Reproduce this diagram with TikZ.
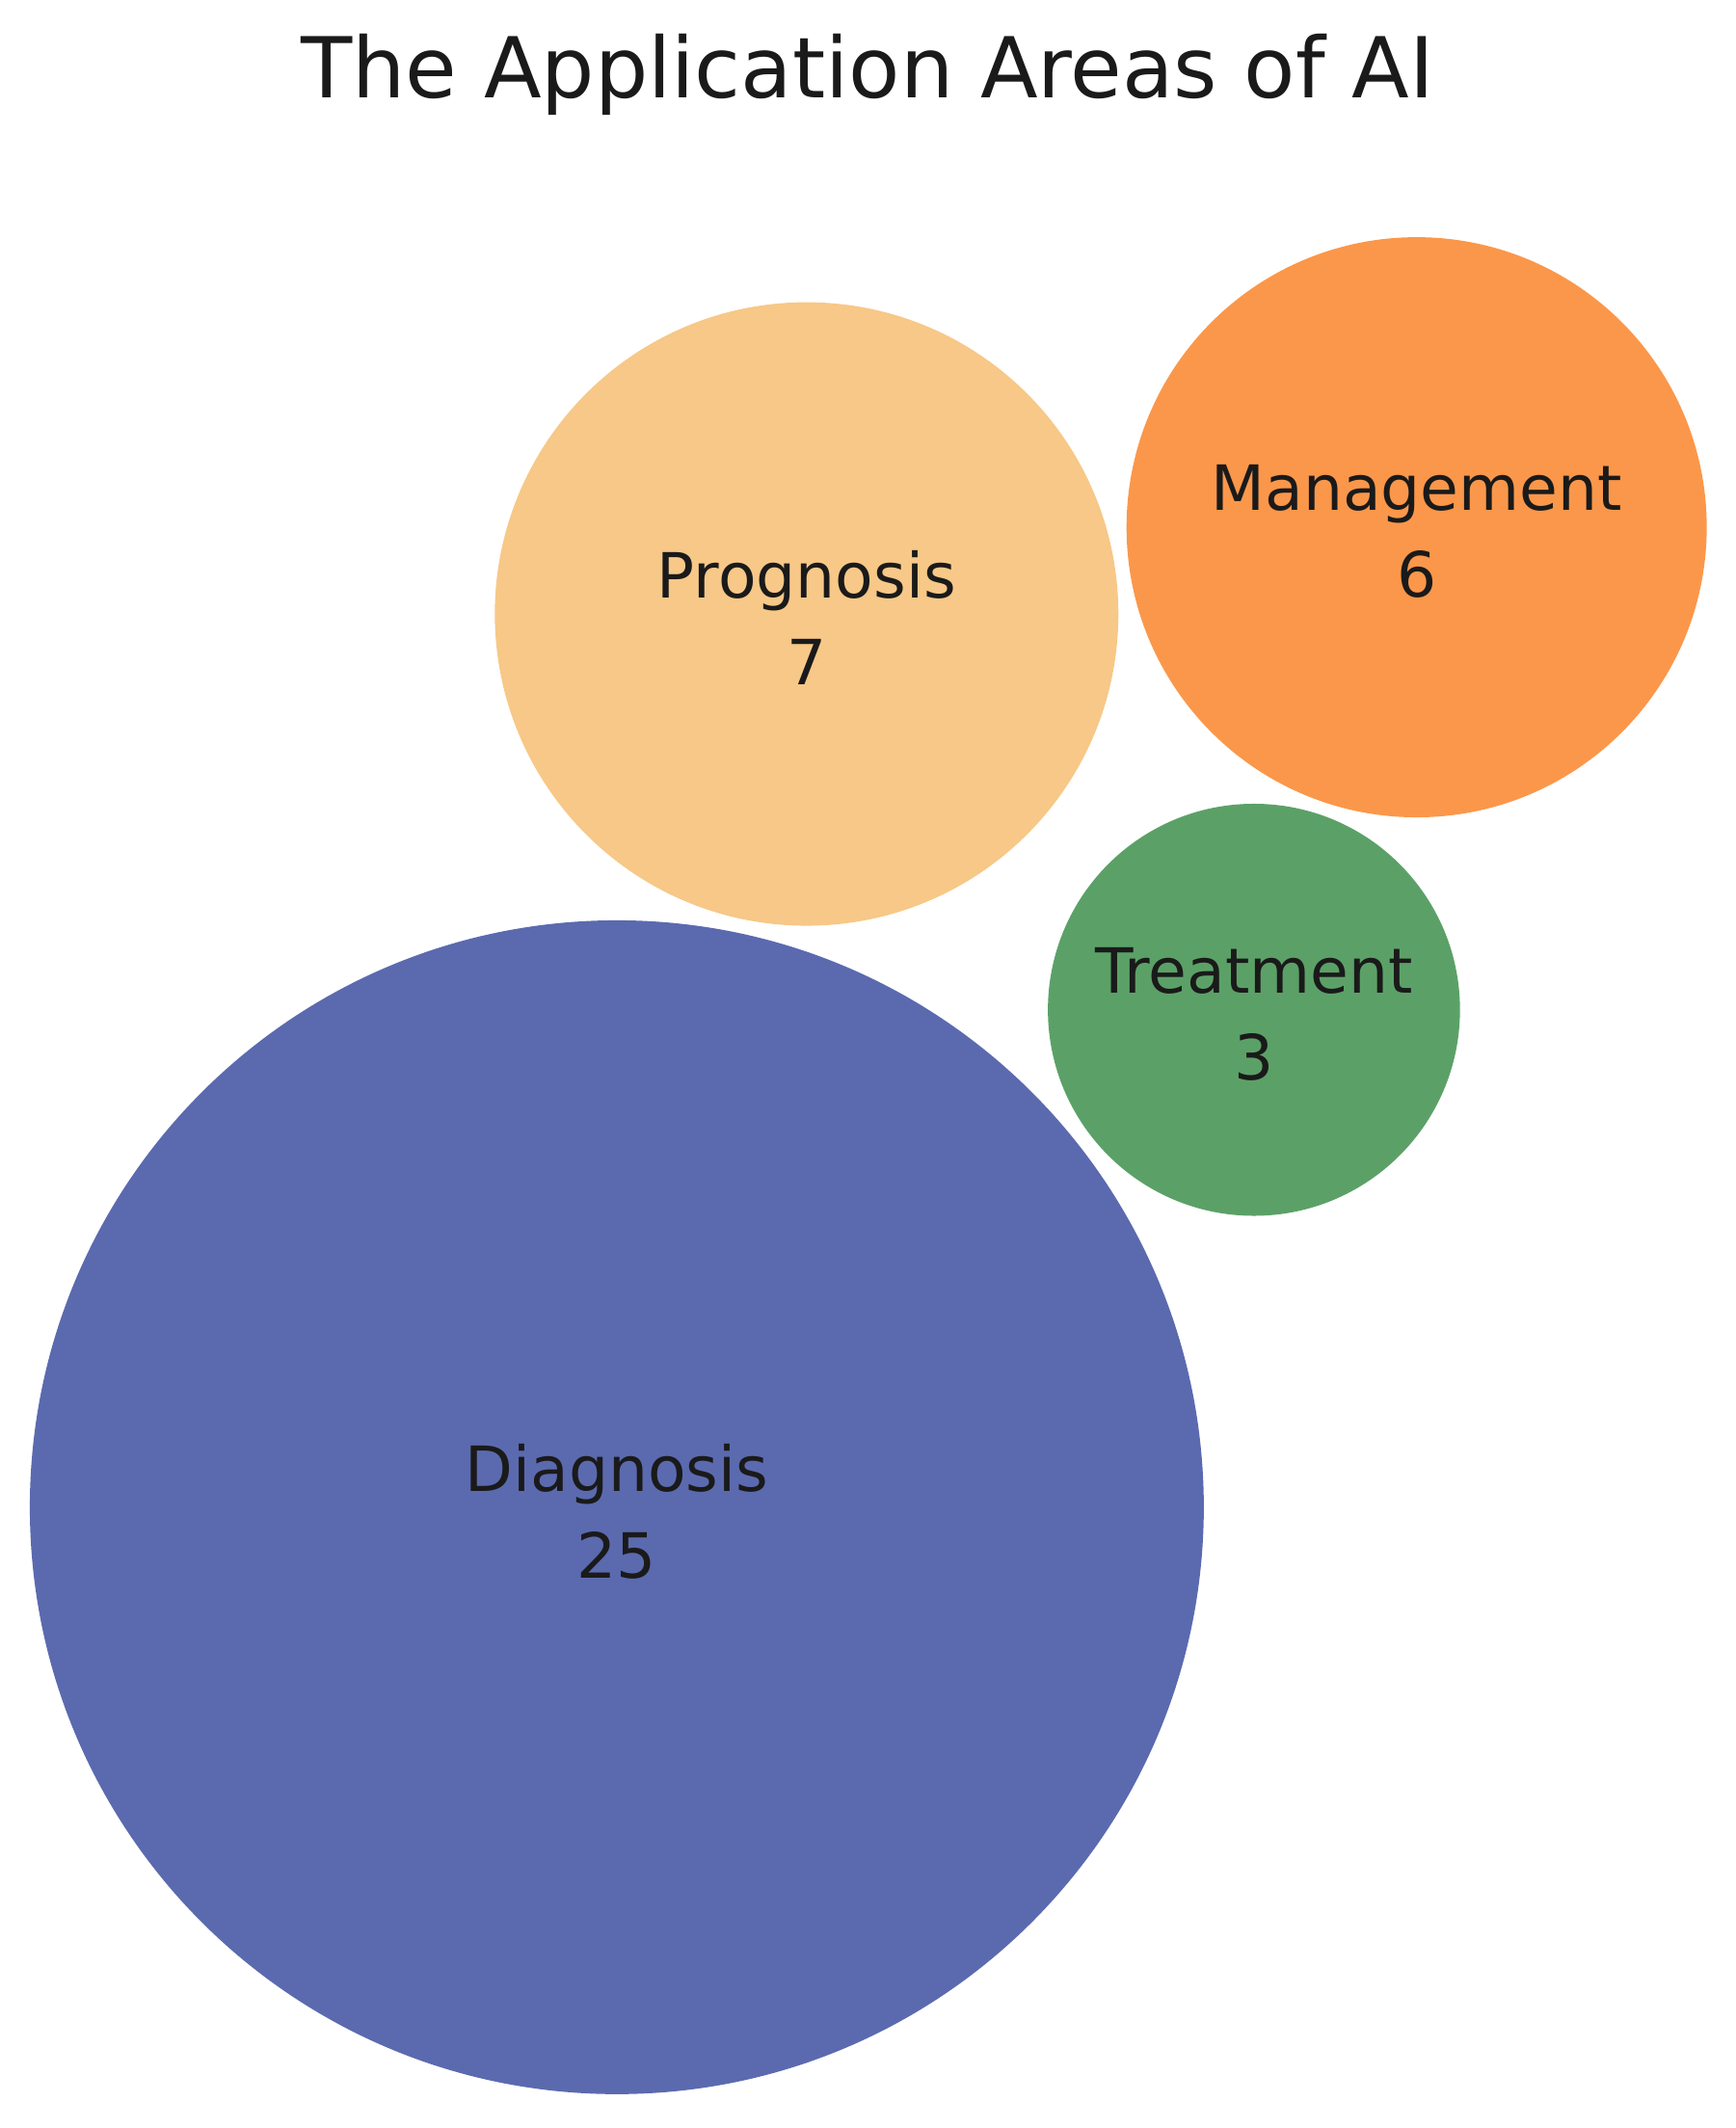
\documentclass[tikz,border=0pt]{standalone}
\usepackage{fontspec}
\setmainfont{DejaVu Sans}
\definecolor{cdiag}{HTML}{5B6AAF}
\definecolor{cprog}{HTML}{F7C887}
\definecolor{cman}{HTML}{FB974A}
\definecolor{ctreat}{HTML}{5BA167}
\definecolor{ctxt}{HTML}{1A1A1A}
\begin{document}
\begin{tikzpicture}[x=1pt,y=-1pt,
  bub/.style={circle,inner sep=0pt,minimum size=#1},
  lab/.style={text=ctxt,align=center,font=\fontsize{46}{64}\selectfont}]
\useasboundingbox (0,0) rectangle (1280,1570);
\node[bub=866pt,fill=cdiag] (d) at (455,1112) {};
\node[bub=460pt,fill=cprog] (p) at (595,453) {};
\node[bub=428pt,fill=cman] (m) at (1045,389) {};
\node[bub=304pt,fill=ctreat] (t) at (925,745) {};
\node[lab] (dl) at (455,1115) {Diagnosis\\25};
\node[lab] (pl) at (595,456) {Prognosis\\7};
\node[lab] (ml) at (1045,392) {Management\\6};
\node[lab] (tl) at (925,748) {Treatment\\3};
\node[text=ctxt,font=\fontsize{62}{70}\selectfont] (title) at (640,55) {The Application Areas of AI};
\end{tikzpicture}
\end{document}
